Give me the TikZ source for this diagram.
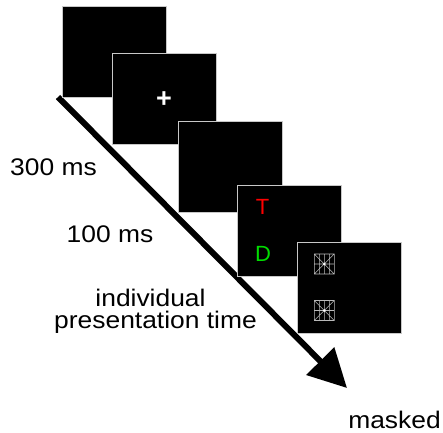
\documentclass[tikz,border=0pt]{standalone}
\usepackage{fontspec}
\setmainfont{Liberation Sans}
\newfontfamily\labelfont{Liberation Sans}[FakeStretch=1.1]
\usetikzlibrary{arrows.meta}
\definecolor{framegray}{RGB}{200,200,200}
\definecolor{maskgray}{RGB}{185,185,185}
\definecolor{targetred}{RGB}{255,0,0}
\definecolor{distgreen}{RGB}{0,220,0}
\begin{document}
\begin{tikzpicture}[x=1pt,y=-1pt,
  screen/.style={draw=framegray, line width=1pt, fill=black,
    minimum width=104pt, minimum height=91pt, inner sep=0pt},
  timelabel/.style={font=\labelfont\fontsize{24}{24}\selectfont,
    anchor=base, inner sep=0pt},
  letter/.style={font=\fontsize{22}{22}\selectfont, inner sep=0pt},
  timeline/.style={line width=6pt, -{Triangle[length=38pt,width=38pt]}},
  masksymbol/.pic={
    \draw[maskgray, line width=0.6pt] (-10,-10) rectangle (10,10)
      (-5,-10) -- (-5,10) (0,-10) -- (0,10) (5,-10) -- (5,10)
      (-10,0) -- (10,0) (-10,-10) -- (10,10) (-10,10) -- (10,-10);
    \fill[white] (0,0) circle (1.3);
  }]
\useasboundingbox (0,0) rectangle (443,432);

% time axis
\coordinate (tstart) at (58,97);
\coordinate (tend) at (347,388);
\draw[timeline] (tstart) -- (tend);

% the sequence of screens
\node[screen] (s1) at (114,52) {};
\node[screen] (s2) at (164,98.5) {};
\node[screen] (s3) at (230.5,167) {};
\node[screen] (s4) at (289,231) {};
\node[screen] (s5) at (349.5,287.5) {};

% screen contents
\node[font=\bfseries\fontsize{27}{27}\selectfont, text=white, inner sep=0pt] (fix) at (164,100) {+};
\node[letter, text=targetred] (tgt) at (262.5,207) {T};
\node[letter, text=distgreen] (dst) at (263,253.7) {D};
\pic at (324.3,264) {masksymbol};
\pic at (324.3,310.5) {masksymbol};

% durations
\node[timelabel] (t300) at (53.5,175) {300 ms};
\node[timelabel] (t100) at (110,242) {100 ms};
\node[timelabel] (tind1) at (150.5,306) {individual};
\node[timelabel] (tind2) at (155.5,328) {presentation time};
\node[timelabel] (tmask) at (394.5,428) {masked};
\end{tikzpicture}
\end{document}
